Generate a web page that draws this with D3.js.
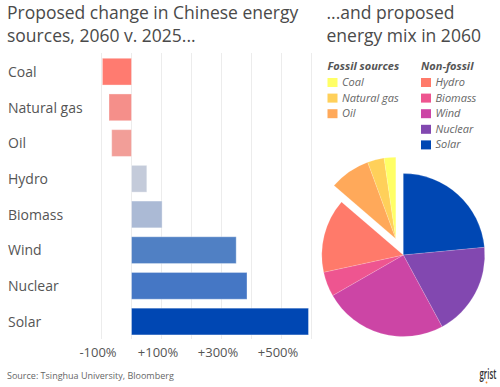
<!DOCTYPE html>
<html>
<head>
<meta charset="utf-8">
<script src="https://cdn.jsdelivr.net/npm/d3@7"></script>
<style>
  body { margin: 0; background: #fff; }
  text { font-family: "Open Sans", sans-serif; }
</style>
</head>
<body>
<div class="chart"></div>
<script>
var svgWidth = 500;
var svgHeight = 387;

// Bar chart data: change 2060 v. 2025 (%)
var sources = ["Coal", "Natural gas", "Oil", "Hydro", "Biomass", "Wind", "Nuclear", "Solar"];
var changes = [-97, -75, -66, 51, 102, 349, 385, 590];
var barColors = ["#ff7b70", "#f58f8a", "#f29e98", "#c4cbda", "#abbad5", "#5080c4", "#4577c5", "#0047b3"];
var tickValues = [-100, 0, 100, 200, 300, 400, 500, 600];
var tickLabels = ["-100%", "", "+100%", "", "+300%", "", "+500%", ""];

// Pie data: proposed energy mix 2060 (%), clockwise from top
var mixNames = ["Solar", "Nuclear", "Wind", "Biomass", "Hydro", "Oil", "Natural gas", "Coal"];
var mixShares = [23.5, 18.6, 24.6, 4.9, 14.7, 8.1, 3.3, 2.3];
var mixColors = ["#0047b3", "#8248b0", "#cc45a5", "#ee5590", "#ff7a6a", "#ffa95a", "#ffd05a", "#ffff66"];
var fossil = ["Oil", "Natural gas", "Coal"];

// Legend groups
var fossilLegend = ["Coal", "Natural gas", "Oil"];
var nonFossilLegend = ["Hydro", "Biomass", "Wind", "Nuclear", "Solar"];

var svg = d3.select(".chart")
  .append("svg")
  .attr("width", svgWidth)
  .attr("height", svgHeight);

// Titles
function title(x, lines) {
  var t = svg.append("text")
    .attr("x", x)
    .attr("y", 18.5)
    .attr("fill", "#4a4a4a")
    .attr("font-size", "17.5px");
  lines.forEach(function (line, i) {
    t.append("tspan").attr("x", x).attr("dy", i == 0 ? 0 : 23.3).text(line);
  });
}
title(7, ["Proposed change in Chinese energy", "sources, 2060 v. 2025..."]);
title(326.5, ["...and proposed", "energy mix in 2060"]);

// ---- Bar chart ----
var x_scale = d3.scaleLinear()
  .domain([-100, 600])
  .range([101.5, 311.5]);

var y_scale = d3.scaleBand()
  .domain(sources)
  .range([53.8, 339.4])
  .paddingInner(0.25)
  .paddingOuter(0.125);

// gridlines
svg.append("g")
  .selectAll("line")
  .data(tickValues)
  .enter()
  .append("line")
  .attr("x1", d => x_scale(d))
  .attr("x2", d => x_scale(d))
  .attr("y1", 53)
  .attr("y2", 339)
  .attr("stroke", "#ececec")
  .attr("stroke-width", 1);

// x axis labels
var bottomAxis = d3.axisBottom(x_scale)
  .tickValues(tickValues)
  .tickSize(0)
  .tickPadding(0)
  .tickFormat((d, i) => tickLabels[i]);

var axisG = svg.append("g")
  .attr("transform", "translate(0, 345)")
  .call(bottomAxis);
axisG.select(".domain").remove();
axisG.selectAll("text")
  .attr("font-family", "Open Sans, sans-serif")
  .attr("font-size", "13px")
  .attr("fill", "#555")
  .attr("dx", -4)
  .attr("dy", "0.95em");

// bars
svg.append("g")
  .selectAll("rect")
  .data(sources)
  .enter()
  .append("rect")
  .attr("x", (d, i) => x_scale(Math.min(0, changes[i])))
  .attr("y", d => y_scale(d))
  .attr("width", (d, i) => Math.abs(x_scale(changes[i]) - x_scale(0)))
  .attr("height", y_scale.bandwidth())
  .attr("fill", (d, i) => barColors[i])
  .attr("stroke", "#fff")
  .attr("stroke-opacity", 0.35)
  .attr("stroke-width", 1);

// category labels
svg.append("g")
  .selectAll("text")
  .data(sources)
  .enter()
  .append("text")
  .attr("x", 8)
  .attr("y", d => y_scale(d) + y_scale.bandwidth() / 2)
  .attr("dy", "0.38em")
  .attr("font-size", "14px")
  .attr("fill", "#555")
  .text(d => d);

// ---- Legend ----
function legend(x, header, names) {
  var g = svg.append("g");
  g.append("text")
    .attr("x", x)
    .attr("y", 70)
    .attr("font-size", "11px")
    .attr("font-weight", "bold")
    .attr("font-style", "italic")
    .attr("fill", "#555")
    .text(header);
  var rows = g.selectAll(".row")
    .data(names)
    .enter()
    .append("g")
    .attr("transform", (d, i) => `translate(${x}, ${86 + i * 15.6})`);
  rows.append("rect")
    .attr("x", 0)
    .attr("y", -8)
    .attr("width", 10)
    .attr("height", 9)
    .attr("fill", d => mixColors[mixNames.indexOf(d)]);
  rows.append("text")
    .attr("x", 14.5)
    .attr("y", 0)
    .attr("font-size", "11px")
    .attr("font-style", "italic")
    .attr("fill", "#666")
    .text(d => d);
}
legend(327.5, "Fossil sources", fossilLegend);
legend(421, "Non-fossil", nonFossilLegend);

// ---- Pie ----
var pieData = d3.pie().sort(null)(mixShares);
var radius = 81.5;
var arc = d3.arc().innerRadius(0).outerRadius(radius);

// fossil slices are pulled out as one wedge
var fStart = d3.min(pieData.filter((d, i) => fossil.includes(mixNames[i])), d => d.startAngle);
var fEnd = d3.max(pieData.filter((d, i) => fossil.includes(mixNames[i])), d => d.endAngle);
var fMid = (fStart + fEnd) / 2;
var pull = 18;

var pieG = svg.append("g")
  .attr("transform", "translate(403.3, 255)");

pieG.selectAll("path")
  .data(pieData)
  .enter()
  .append("path")
  .attr("d", arc)
  .attr("fill", (d, i) => mixColors[i])
  .attr("stroke", "#fff")
  .attr("stroke-opacity", 0.3)
  .attr("stroke-width", 0.5)
  .attr("transform", function (d, i) {
    if (!fossil.includes(mixNames[i])) return null;
    return `translate(${Math.sin(fMid) * pull}, ${-Math.cos(fMid) * pull})`;
  });

// ---- Footer ----
svg.append("text")
  .attr("x", 7)
  .attr("y", 379)
  .attr("font-size", "9px")
  .attr("fill", "#666")
  .text("Source: Tsinghua University, Bloomberg");

// grist logo (condensed by scaling)
svg.append("text")
  .attr("transform", "translate(479.5, 379) scale(0.56, 1)")
  .attr("font-size", "14px")
  .attr("font-weight", "600")
  .attr("fill", "#333")
  .text("grist");
svg.append("circle")
  .attr("cx", 486.5)
  .attr("cy", 382.5)
  .attr("r", 0.9)
  .attr("fill", "#f0872e");
</script>
</body>
</html>
